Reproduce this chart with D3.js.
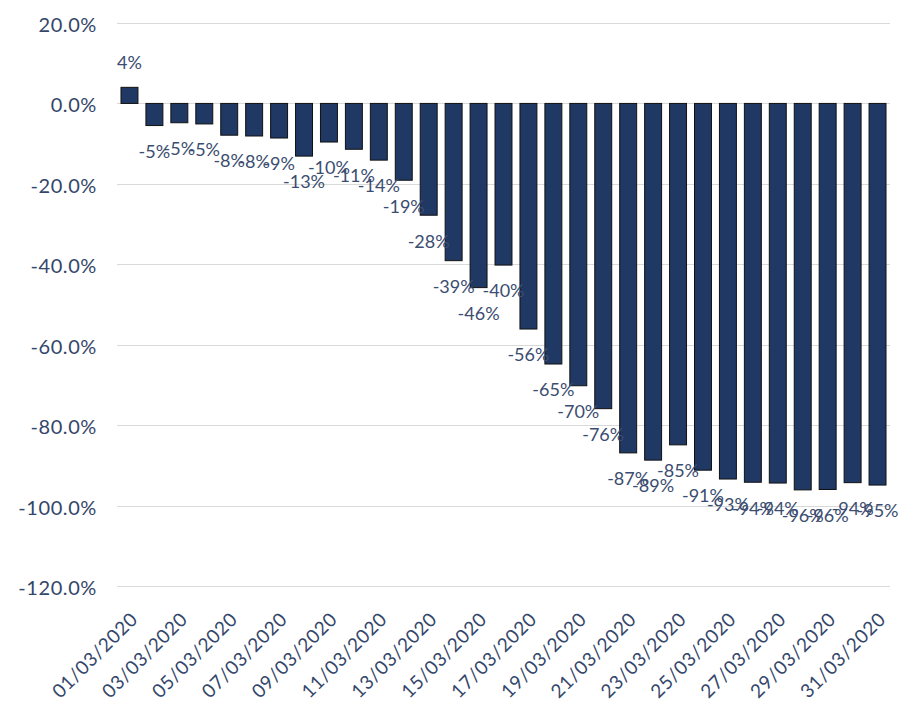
<!DOCTYPE html>
<meta charset="utf-8">
<style>
body { margin: 0; background: #fff; }
svg { font-family: "Lato", "Open Sans", sans-serif; }
.grid line { stroke: #d9d9d9; stroke-width: 1px; shape-rendering: crispEdges; }
.y-label { fill: #34466a; font-size: 20px; letter-spacing: 0.6px; }
.x-label { fill: #34466a; font-size: 19px; letter-spacing: 0.6px; }
.bar-label { fill: #3b4d70; font-size: 18px; }
</style>
<svg width="910" height="707"></svg>
<script src="https://d3js.org/d3.v7.min.js"></script>
<script>

// daily change, March 2020 (%)
let dates = d3.range(1, 32).map(function(d) { return d3.format("02")(d) + "/03/2020"; });
let values = [4, -5.5, -4.8, -5.1, -7.9, -8.1, -8.6, -13.1, -9.6, -11.4, -14.1, -19.1, -27.8,
              -39.1, -45.8, -40.2, -56.1, -64.8, -70.2, -75.9, -86.9, -88.7, -84.9, -91.2,
              -93.4, -94.2, -94.4, -96.1, -96.0, -94.3, -94.9];
let yTicks = [20, 0, -20, -40, -60, -80, -100, -120];

let svg = d3.select("svg");

let x = d3.scaleBand().domain(dates).range([117, 890]).paddingInner(0.32).paddingOuter(0.16),
    y = d3.scaleLinear().domain([-120, 20]).range([586, 23]);

// gridlines
svg.append("g").attr("class", "grid")
    .selectAll("line")
    .data(yTicks)
    .enter().append("line")
    .attr("x1", 117).attr("x2", 890)
    .attr("y1", function(d) { return Math.round(y(d)) + 0.5; })
    .attr("y2", function(d) { return Math.round(y(d)) + 0.5; });

// y tick labels
svg.append("g").selectAll("text")
    .data(yTicks)
    .enter().append("text")
    .attr("class", "y-label")
    .attr("x", 97)
    .attr("y", function(d) { return y(d) + 2; })
    .attr("dy", "0.35em")
    .attr("text-anchor", "end")
    .text(function(d) { return d.toFixed(1) + "%"; });

// bars
svg.append("g").selectAll("rect")
    .data(values)
    .enter().append("rect")
    .attr("x", function(d, i) { return x(dates[i]); })
    .attr("width", x.bandwidth())
    .attr("y", function(d) { return y(Math.max(0, d)); })
    .attr("height", function(d) { return Math.abs(y(d) - y(0)); })
    .attr("fill", "#203864")
    .attr("stroke", "#111")
    .attr("stroke-width", 1);

// value labels
svg.append("g").selectAll("text")
    .data(values)
    .enter().append("text")
    .attr("class", "bar-label")
    .attr("x", function(d, i) { return x(dates[i]) + x.bandwidth() / 2; })
    .attr("y", function(d) { return d >= 0 ? y(d) - 25 : y(d) + 26; })
    .attr("dy", "0.35em")
    .attr("text-anchor", "middle")
    .text(function(d) { return Math.round(d) + "%"; });

// x tick labels, every other day
svg.append("g").selectAll("text")
    .data(dates.filter(function(d, i) { return i % 2 === 0; }))
    .enter().append("text")
    .attr("class", "x-label")
    .attr("text-anchor", "end")
    .attr("transform", function(d) {
        return "translate(" + (x(d) + x.bandwidth() / 2) + ",611) rotate(-45)";
    })
    .attr("dy", "0.7em")
    .text(function(d) { return d; });

</script>
